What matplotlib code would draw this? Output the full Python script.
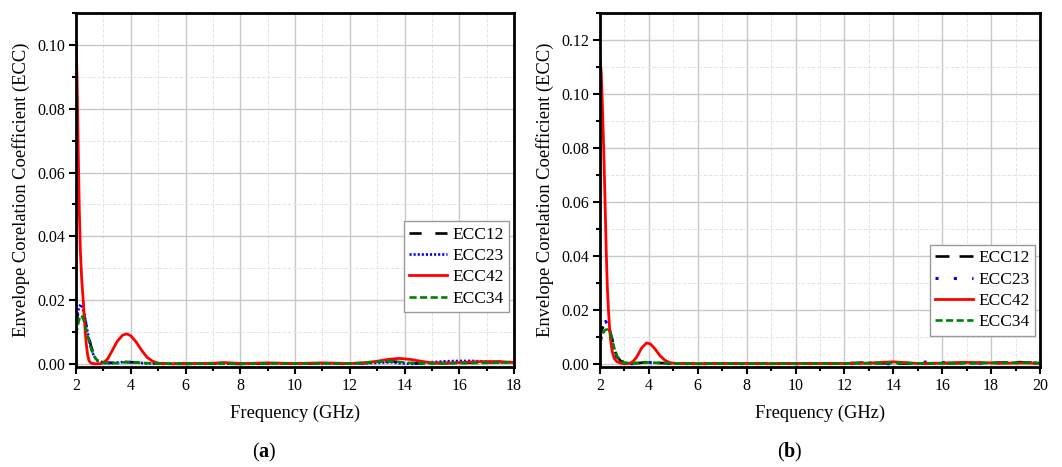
import matplotlib
matplotlib.use("Agg")
import matplotlib.pyplot as plt
from matplotlib.ticker import MultipleLocator, FormatStrFormatter

# ---- panel (a): 2-18 GHz ----
f12_a = [2.0, 2.05, 2.12, 2.2, 2.28, 2.35, 2.45, 2.55, 2.65, 2.8, 3.0, 3.4, 3.8, 4.2, 4.6, 5.0,
         6, 7, 8, 9, 10, 11, 12, 12.5, 13.0, 13.5, 14.0, 14.5, 15.0, 16.0, 17.0, 17.5, 18.0]
ecc12_a = [0.012, 0.015, 0.017, 0.0175, 0.016, 0.013, 0.009, 0.0055, 0.003, 0.0012, 0.0004, 0.0003,
           0.0006, 0.0004, 0.0002, 0.0001, 0.0, 0.0001, 0.0, 0.0001, 0.0001, 0.0001, 0.0001, 0.0002,
           0.0005, 0.0008, 0.0004, 0.0001, 0.0002, 0.0003, 0.0004, 0.0006, 0.0008]

f23_a = [2.0, 2.05, 2.12, 2.18, 2.24, 2.3, 2.36, 2.42, 2.5, 2.6, 2.7, 2.8, 2.95, 3.2, 3.5, 3.8, 4.1,
         4.5, 5.0, 6, 7, 8, 9, 10, 11, 12, 13.0, 13.5, 13.8, 14.0, 14.3, 14.6, 15.0, 15.5, 16.0,
         16.5, 17.0, 17.5, 18.0]
ecc23_a = [0.013, 0.0155, 0.018, 0.0187, 0.0175, 0.0155, 0.013, 0.010, 0.0065, 0.0035, 0.0018,
           0.0008, 0.0003, 0.0002, 0.0004, 0.0006, 0.0005, 0.0002, 0.0001, 0.0, 0.0001, 0.0, 0.0001,
           0.0001, 0.0001, 0.0001, 0.0003, 0.0005, 0.0002, 0.0001, 0.0, 0.0002, 0.0005, 0.0008,
           0.0009, 0.0009, 0.0007, 0.0004, 0.0006]

f42_a = [2.0, 2.03, 2.06, 2.09, 2.12, 2.16, 2.21, 2.27, 2.32, 2.37, 2.42, 2.47, 2.55, 2.7, 2.85,
         3.0, 3.15, 3.3, 3.5, 3.7, 3.85, 4.0, 4.2, 4.4, 4.6, 4.8, 5.0, 5.5, 6.0, 6.5, 7.0, 7.4,
         7.8, 8.2, 8.6, 9.0, 9.5, 10.0, 10.5, 11.0, 11.5, 12.0, 12.5, 13.0, 13.4, 13.8, 14.2,
         14.6, 15.0, 15.5, 16.0, 16.5, 17.0, 17.5, 18.0]
ecc42_a = [0.101, 0.092, 0.078, 0.062, 0.048, 0.035, 0.026, 0.019, 0.012, 0.0065, 0.003, 0.001,
           0.0002, 0.0, 0.0, 0.0003, 0.0015, 0.0038, 0.007, 0.009, 0.0094, 0.0088, 0.0068, 0.0042,
           0.002, 0.0008, 0.0002, 0.0, 0.0001, 0.0001, 0.0002, 0.0004, 0.0002, 0.0001, 0.0002,
           0.0003, 0.0002, 0.0001, 0.0002, 0.0003, 0.0002, 0.0001, 0.0003, 0.0008, 0.0014, 0.0017,
           0.0014, 0.0008, 0.0003, 0.0002, 0.0004, 0.0006, 0.0007, 0.0007, 0.0004]

f34_a = [2.0, 2.06, 2.13, 2.2, 2.27, 2.35, 2.45, 2.55, 2.65, 2.75, 2.9, 3.1, 3.5, 3.8, 4.2, 4.6,
         5.0, 6, 7, 8, 9, 10, 11, 12, 12.5, 13.0, 13.4, 13.8, 14.3, 15.0, 16.0, 17.0, 18.0]
ecc34_a = [0.009, 0.012, 0.0145, 0.0152, 0.014, 0.0115, 0.008, 0.0048, 0.0026, 0.0013, 0.0005,
           0.0002, 0.0002, 0.0005, 0.0004, 0.0002, 0.0001, 0.0, 0.0001, 0.0, 0.0001, 0.0001, 0.0001,
           0.0001, 0.0003, 0.0006, 0.0008, 0.0006, 0.0002, 0.0001, 0.0002, 0.0003, 0.0005]

# ---- panel (b): 2-20 GHz ----
f12_b = [2.0, 2.05, 2.1, 2.18, 2.25, 2.33, 2.4, 2.5, 2.6, 2.7, 2.85, 3.1, 3.5, 3.95, 4.4, 5.0,
         6, 7, 8, 9, 10, 11, 12, 12.7, 13.3, 14, 15, 16, 17, 18, 19.1, 20.0]
ecc12_b = [0.009, 0.012, 0.0135, 0.0125, 0.011, 0.0118, 0.0125, 0.009, 0.005, 0.0025, 0.001,
           0.0003, 0.0002, 0.0006, 0.0003, 0.0001, 0.0, 0.0001, 0.0, 0.0001, 0.0, 0.0001, 0.0001,
           0.0004, 0.0002, 0.0001, 0.0001, 0.0002, 0.0002, 0.0003, 0.0006, 0.0003]

f23_b = [2.0, 2.08, 2.16, 2.23, 2.3, 2.37, 2.44, 2.52, 2.6, 2.7, 2.8, 3.0, 3.3, 3.6, 3.95, 4.3,
         4.8, 6, 7, 8, 9, 10, 11, 12, 12.5, 13.0, 13.6, 14.0, 14.5, 15.2, 15.9, 16.5, 17.0, 18.0,
         19.0, 20.0]
ecc23_b = [0.009, 0.012, 0.015, 0.0157, 0.0148, 0.0132, 0.011, 0.0075, 0.0045, 0.002, 0.0008,
           0.0002, 0.0, 0.0002, 0.0005, 0.0003, 0.0001, 0.0, 0.0001, 0.0, 0.0001, 0.0, 0.0001,
           0.0001, 0.0002, 0.0003, 0.0, 0.0, 0.0002, 0.0006, 0.0005, 0.0002, 0.0003, 0.0002,
           0.0004, 0.0002]

f42_b = [2.0, 2.05, 2.1, 2.15, 2.2, 2.25, 2.3, 2.35, 2.4, 2.45, 2.5, 2.58, 2.68, 2.85, 3.0, 3.2,
         3.35, 3.5, 3.7, 3.9, 4.05, 4.25, 4.45, 4.65, 4.85, 5.1, 6, 7, 8, 9, 10, 11, 12, 13.0,
         13.5, 14.0, 14.5, 15.0, 16.0, 16.8, 17.5, 18.5, 19.5, 20.0]
ecc42_b = [0.113, 0.108, 0.095, 0.080, 0.062, 0.043, 0.028, 0.019, 0.012, 0.0075, 0.0045, 0.002,
           0.0008, 0.0002, 0.0, 0.0001, 0.0008, 0.0025, 0.0058, 0.0077, 0.0074, 0.0055, 0.003,
           0.0013, 0.0004, 0.0001, 0.0, 0.0001, 0.0001, 0.0, 0.0001, 0.0001, 0.0001, 0.0002,
           0.0005, 0.0007, 0.0004, 0.0001, 0.0002, 0.0005, 0.0004, 0.0002, 0.0003, 0.0001]

f34_b = [2.0, 2.1, 2.2, 2.3, 2.4, 2.5, 2.6, 2.7, 2.85, 3.0, 3.4, 3.9, 4.4, 5.0, 6, 7, 8, 9, 10,
         11, 12, 13, 14, 15, 16, 17, 18, 19, 20.0]
ecc34_b = [0.0075, 0.011, 0.0125, 0.0127, 0.0118, 0.0085, 0.0052, 0.0027, 0.0011, 0.0004, 0.0002,
           0.0005, 0.0003, 0.0001, 0.0, 0.0001, 0.0, 0.0001, 0.0, 0.0001, 0.0001, 0.0002, 0.0003,
           0.0001, 0.0002, 0.0002, 0.0003, 0.0004, 0.0003]

labels = ["ECC12", "ECC23", "ECC42", "ECC34"]

plt.rcParams['font.family'] = 'Liberation Serif'
plt.rcParams['mathtext.fontset'] = 'custom'
plt.rcParams['mathtext.rm'] = 'Liberation Serif'
plt.rcParams['mathtext.bf'] = 'Liberation Serif:bold'


def style_axes(ax, xmax, ymin, ymax):
    ax.set_xlim(2, xmax)
    ax.set_ylim(ymin, ymax)
    ax.xaxis.set_major_locator(MultipleLocator(2))
    ax.xaxis.set_minor_locator(MultipleLocator(1))
    ax.yaxis.set_major_locator(MultipleLocator(0.02))
    ax.yaxis.set_minor_locator(MultipleLocator(0.01))
    ax.yaxis.set_major_formatter(FormatStrFormatter('%.2f'))
    ax.grid(which='major', color='#c8c8c8', lw=1.0)
    ax.grid(which='minor', color='#e4e4e4', ls='--', lw=0.7)
    ax.set_axisbelow(True)
    ax.tick_params(which='both', direction='out', top=False, right=False,
                   width=1.5, labelsize=11.5, pad=3)
    ax.tick_params(which='major', length=5)
    ax.tick_params(which='minor', length=3)
    for sp in ax.spines.values():
        sp.set_linewidth(2)
    ax.set_xlabel("Frequency (GHz)", fontsize=13.3, labelpad=8)
    ax.set_ylabel("Envelope Corelation Coefficient (ECC)", fontsize=13.3, labelpad=5)


fig = plt.figure(figsize=(10.62, 4.67), dpi=100)
ax_a = fig.add_axes([0.0716, 0.2148, 0.4124, 0.7567])
ax_b = fig.add_axes([0.565, 0.2148, 0.4143, 0.7567])

# (a)
ax_a.plot(f12_a, ecc12_a, color='black', lw=1.9, ls=(0, (4.6, 5.2)), label=labels[0])
ax_a.plot(f23_a, ecc23_a, color='blue', lw=1.9, ls=(0, (0.8, 0.75)), label=labels[1])
ax_a.plot(f42_a, ecc42_a, color='red', lw=2.0, ls='-', label=labels[2])
ax_a.plot(f34_a, ecc34_a, color='green', lw=1.9, ls=(0, (2.7, 1.3)), label=labels[3])
style_axes(ax_a, 18, -0.0009, 0.110)

# (b)
ax_b.plot(f12_b, ecc12_b, color='black', lw=1.9, ls=(0, (5.3, 3.8)), label=labels[0])
ax_b.plot(f23_b, ecc23_b, color='blue', lw=2.2, ls=(0, (1, 5.0)), label=labels[1])
ax_b.plot(f42_b, ecc42_b, color='red', lw=2.0, ls='-', label=labels[2])
ax_b.plot(f34_b, ecc34_b, color='green', lw=1.9, ls=(0, (2.7, 1.3)), label=labels[3])
style_axes(ax_b, 20, -0.0011, 0.130)

for ax, anchor in ((ax_a, (0.988, 0.155)), (ax_b, (0.988, 0.088))):
    leg = ax.legend(loc='lower right', bbox_to_anchor=anchor, fontsize=12.5,
                    frameon=True, fancybox=False, edgecolor='#9a9a9a', framealpha=1,
                    handlelength=2.2, handletextpad=0.3, labelspacing=0.3,
                    borderpad=0.3, borderaxespad=0)
    leg.get_frame().set_linewidth(1.0)

fig.text(264 / 1062, 1 - 452 / 467, r'$\mathrm{(}\mathbf{a}\mathrm{)}$',
         ha='center', va='center', fontsize=14.5)
fig.text(790 / 1062, 1 - 452 / 467, r'$\mathrm{(}\mathbf{b}\mathrm{)}$',
         ha='center', va='center', fontsize=14.5)

fig.savefig("out.png", dpi=100)
plt.close(fig)
